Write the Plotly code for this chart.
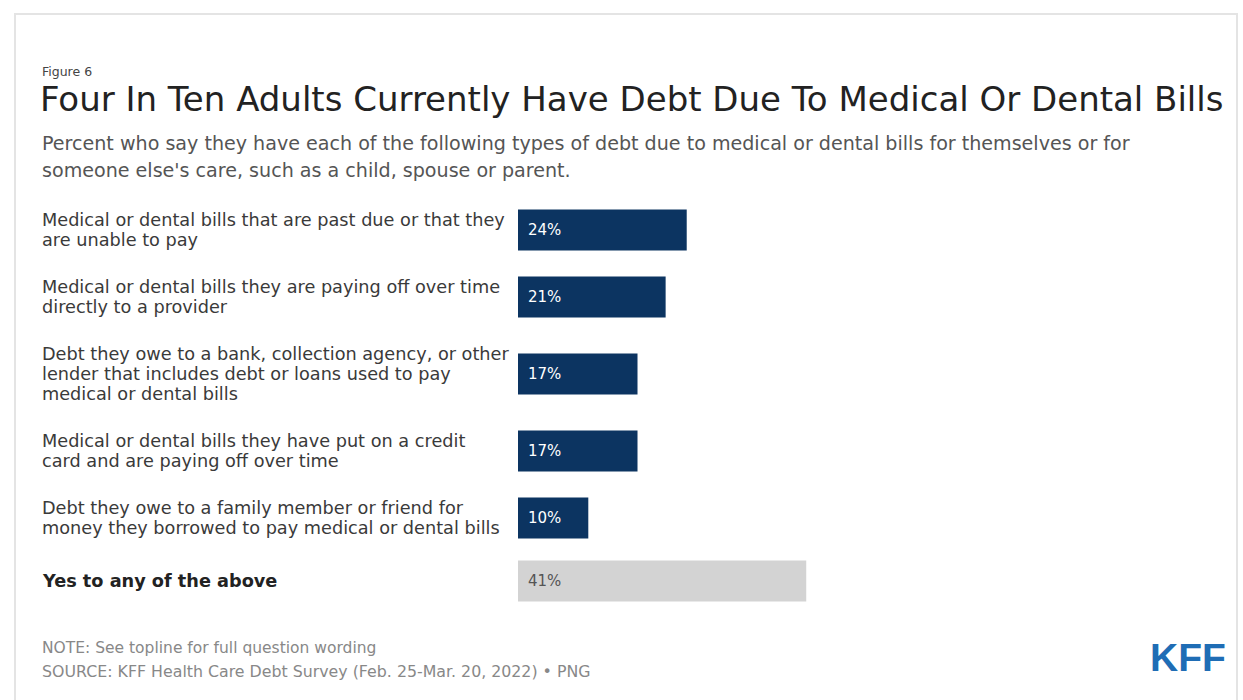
import plotly.graph_objects as go

# Survey items (each label is a list of its text lines) and their shares
categories = [
    ["Medical or dental bills that are past due or that they", "are unable to pay"],
    ["Medical or dental bills they are paying off over time", "directly to a provider"],
    ["Debt they owe to a bank, collection agency, or other",
     "lender that includes debt or loans used to pay", "medical or dental bills"],
    ["Medical or dental bills they have put on a credit", "card and are paying off over time"],
    ["Debt they owe to a family member or friend for",
     "money they borrowed to pay medical or dental bills"],
    ["<b>Yes to any of the above</b>"],
]
values = [24, 21, 17, 17, 10, 41]
is_total = [False, False, False, False, False, True]

W, H = 1243, 700
NAVY = "#0c3461"
GREY_BAR = "#d3d3d3"
FONT = "DejaVu Sans, Verdana, sans-serif"
LINE_GAP = 20

# Row layout: label block height (at least 32 px) plus fixed padding
def row_height(lines):
    return max(LINE_GAP * len(lines), 32) + 27

centers = []
pos = 230 - row_height(categories[0]) / 2
for lines in categories:
    h = row_height(lines)
    centers.append(pos + h / 2)
    pos += h

bar_left = 518
px_per_pct = 7.03
x_max = 100
x_dom = [bar_left / W, (bar_left + px_per_pct * x_max) / W]

fig = go.Figure()
fig.add_trace(go.Bar(
    x=values,
    y=centers,
    orientation="h",
    width=41,
    marker=dict(color=[GREY_BAR if t else NAVY for t in is_total], line=dict(width=0)),
    hoverinfo="skip",
))

annotations = []
for lines, v, yc, tot in zip(categories, values, centers, is_total):
    n = len(lines)
    for i, line in enumerate(lines):
        annotations.append(dict(
            x=40 / W, xref="paper", y=yc, yref="y", yshift=-(i - (n - 1) / 2) * LINE_GAP,
            text=line, showarrow=False, xanchor="left", yanchor="middle", align="left",
            font=dict(family=FONT, size=17.7, color="#222" if tot else "#3a3a3a"),
        ))
    annotations.append(dict(
        x=0, xref="x", y=yc, yref="y", xshift=8,
        text=f"{v}%", showarrow=False, xanchor="left", yanchor="middle",
        font=dict(family=FONT, size=15, color="#555" if tot else "white"),
    ))

def ptext(x, y, text, size, color, family=FONT, **kw):
    d = dict(x=x / W, y=1 - y / H, xref="paper", yref="paper", text=text, showarrow=False,
             xanchor="left", yanchor="middle", align="left",
             font=dict(family=family, size=size, color=color))
    d.update(kw)
    return d

annotations += [
    ptext(40, 71, "Figure 6", 12.5, "#444"),
    ptext(38, 99, "Four In Ten Adults Currently Have Debt Due To Medical Or Dental Bills", 34, "#222"),
    ptext(40, 143, "Percent who say they have each of the following types of debt due to medical or dental bills for themselves or for", 19.1, "#555"),
    ptext(40, 170, "someone else's care, such as a child, spouse or parent.", 19.1, "#555"),
    ptext(40, 648, "NOTE: See topline for full question wording", 15.5, "#888"),
    ptext(40, 671, "SOURCE: KFF Health Care Debt Survey (Feb. 25-Mar. 20, 2022) • PNG", 15.8, "#888"),
    ptext(1148, 657, "<b>KFF</b>", 39, "#1f6db5", family="Liberation Sans, Arial"),
]

fig.update_layout(
    width=W, height=H,
    margin=dict(l=0, r=0, t=0, b=0),
    paper_bgcolor="white", plot_bgcolor="rgba(0,0,0,0)",
    showlegend=False,
    xaxis=dict(domain=x_dom, range=[0, x_max], visible=False, fixedrange=True),
    yaxis=dict(domain=[0, 1], range=[H, 0], visible=False, fixedrange=True),
    annotations=annotations,
    shapes=[dict(type="rect", xref="paper", yref="paper",
                 x0=15 / W, x1=1237 / W, y0=-0.02, y1=1 - 14 / H,
                 line=dict(color="#e4e4e4", width=2), fillcolor="rgba(0,0,0,0)")],
)

fig.write_html("out.html")
